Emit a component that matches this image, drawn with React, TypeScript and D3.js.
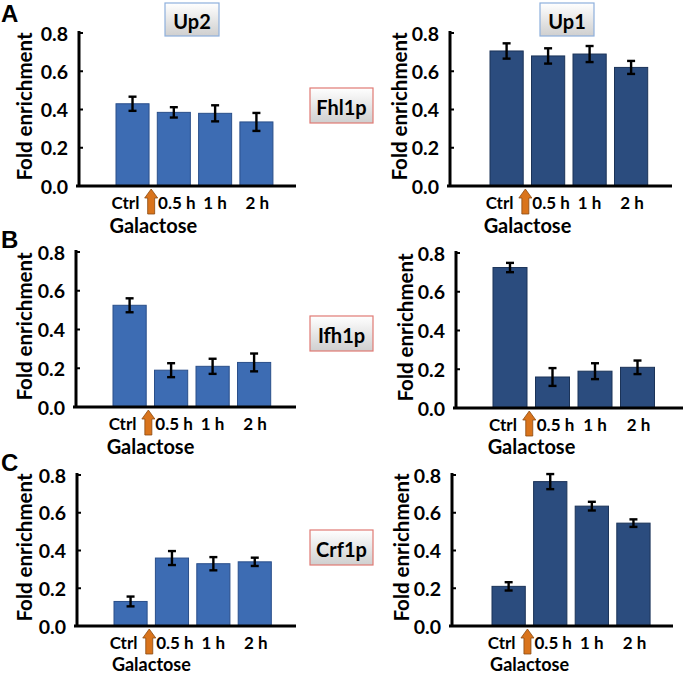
import React from 'react';
import * as d3 from 'd3';

const categories = ['Ctrl', '0.5 h', '1 h', '2 h'];
const yTicks = [0, 0.2, 0.4, 0.6, 0.8];
const rowLetters = ['A', 'B', 'C'];
const proteins = ['Fhl1p', 'Ifh1p', 'Crf1p'];
const regionTitles = ['Up2', 'Up1'];
const xTitle = 'Galactose';
const yTitle = 'Fold enrichment';

// values (mean) and error (half-length) per panel
const fhl1Up2 = [0.43, 0.385, 0.38, 0.335];
const fhl1Up2Err = [0.037, 0.027, 0.042, 0.047];
const fhl1Up1 = [0.706, 0.68, 0.69, 0.62];
const fhl1Up1Err = [0.04, 0.04, 0.042, 0.034];
const ifh1Up2 = [0.525, 0.19, 0.21, 0.23];
const ifh1Up2Err = [0.036, 0.036, 0.039, 0.046];
const ifh1Up1 = [0.725, 0.16, 0.19, 0.21];
const ifh1Up1Err = [0.024, 0.046, 0.041, 0.035];
const crf1Up2 = [0.13, 0.36, 0.33, 0.34];
const crf1Up2Err = [0.026, 0.037, 0.035, 0.022];
const crf1Up1 = [0.21, 0.765, 0.635, 0.545];
const crf1Up1Err = [0.022, 0.04, 0.023, 0.02];

const panelValues = [
  [fhl1Up2, fhl1Up1],
  [ifh1Up2, ifh1Up1],
  [crf1Up2, crf1Up1],
];
const panelErrors = [
  [fhl1Up2Err, fhl1Up1Err],
  [ifh1Up2Err, ifh1Up1Err],
  [crf1Up2Err, crf1Up1Err],
];

// layout (pixels) per panel
const layouts = [
  [
    { axisX: 79, barStart: 116, axisEnd: 296, y0: 186, yTop: 33, step: 41.3, xtDy: 39, xtFs: 20 },
    { axisX: 450, barStart: 490, axisEnd: 672, y0: 186, yTop: 33, step: 41.5, xtDy: 39, xtFs: 20 },
  ],
  [
    { axisX: 76, barStart: 113, axisEnd: 296, y0: 407, yTop: 252, step: 41.5, xtDy: 39, xtFs: 20 },
    { axisX: 456, barStart: 493, axisEnd: 683, y0: 408, yTop: 253, step: 42.5, xtDy: 38, xtFs: 20 },
  ],
  [
    { axisX: 77, barStart: 114, axisEnd: 296, y0: 626, yTop: 475, step: 41.4, xtDy: 38, xtFs: 18 },
    { axisX: 452, barStart: 492, axisEnd: 673, y0: 626, yTop: 475, step: 41.6, xtDy: 38, xtFs: 18 },
  ],
];
const catLabelDx = [-7, 3, 0, 1];
const barColors = ['#3D6CB3', '#2B4C7E'];
const barStroke = ['#2A4F8A', '#1B3358'];
const FONT = 'Lato, "Open Sans", sans-serif';

function Panel({ row, col }: { row: number; col: number }) {
  const L = layouts[row][col];
  const vals = panelValues[row][col];
  const errs = panelErrors[row][col];
  const y = d3.scaleLinear().domain([0, 0.8]).range([L.y0, L.yTop]);
  const start = L.barStart - 0.1 * L.step;
  const x = d3
    .scaleBand<string>()
    .domain(categories)
    .range([start, start + 4 * L.step])
    .paddingInner(0.2)
    .paddingOuter(0.1);
  const bw = x.bandwidth();
  const gapCenter = ((x('Ctrl') as number) + bw + (x('0.5 h') as number)) / 2;
  const ax = gapCenter - 2;
  const at = L.y0 + 3;
  const arrowPath = `M${ax},${at} L${ax + 6.5},${at + 9} L${ax + 3.5},${at + 9} L${ax + 3.5},${at + 25} L${ax - 3.5},${at + 25} L${ax - 3.5},${at + 9} L${ax - 6.5},${at + 9} Z`;
  const labelCy = (L.y0 + L.yTop) / 2 - 3;
  const titleX = col === 0 ? 24 : L.axisX - 51;
  return (
    <g>
      <text
        transform={`translate(${titleX},${labelCy}) rotate(-90)`}
        textAnchor="middle"
        dominantBaseline="central"
        fontFamily={FONT}
        fontWeight={700}
        fontSize={20.5}
        fill="#000"
      >
        {yTitle}
      </text>
      {yTicks.map((t) => (
        <g key={t}>
          <text
            x={L.axisX - 11}
            y={y(t)}
            textAnchor="end"
            dominantBaseline="central"
            fontFamily={FONT}
            fontWeight={700}
            fontSize={19.5}
          >
            {d3.format('.1f')(t)}
          </text>
          <line x1={L.axisX} x2={L.axisX + 4} y1={y(t)} y2={y(t)} stroke="#000" strokeWidth={2} />
        </g>
      ))}
      {categories.map((c, i) => (
        <rect
          key={c}
          x={x(c)}
          y={y(vals[i])}
          width={bw}
          height={L.y0 - y(vals[i])}
          fill={barColors[col]}
          stroke={barStroke[col]}
          strokeWidth={1}
        />
      ))}
      {categories.map((c, i) => {
        const cx = (x(c) as number) + bw / 2;
        const yt = y(vals[i] + errs[i]);
        const yb = y(vals[i] - errs[i]);
        return (
          <g key={c} stroke="#000" strokeWidth={2.4}>
            <line x1={cx} x2={cx} y1={yt} y2={yb} />
            <line x1={cx - 4} x2={cx + 4} y1={yt} y2={yt} />
            <line x1={cx - 4} x2={cx + 4} y1={yb} y2={yb} />
          </g>
        );
      })}
      <line x1={L.axisX} x2={L.axisX} y1={L.yTop - 2} y2={L.y0} stroke="#000" strokeWidth={3} />
      <line x1={L.axisX - 3} x2={L.axisEnd} y1={L.y0} y2={L.y0} stroke="#000" strokeWidth={3} />
      {categories.map((c, i) => (
        <text
          key={c}
          x={(x(c) as number) + bw / 2 + catLabelDx[i]}
          y={L.y0 + 16}
          textAnchor="middle"
          dominantBaseline="central"
          fontFamily={FONT}
          fontWeight={700}
          fontSize={17}
        >
          {c}
        </text>
      ))}
      <path d={arrowPath} fill="#D9741C" stroke="#8A4A12" strokeWidth={0.8} />
      <text
        x={(x('0.5 h') as number) - 4}
        y={L.y0 + L.xtDy}
        textAnchor="middle"
        dominantBaseline="central"
        fontFamily={FONT}
        fontWeight={700}
        fontSize={L.xtFs}
      >
        {xTitle}
      </text>
    </g>
  );
}

function LabelBox({ x, y, w, h, text, stroke }: any) {
  return (
    <g>
      <rect x={x} y={y} width={w} height={h} fill="url(#boxGrad)" stroke={stroke} strokeWidth={1.2} />
      <text
        x={x + w / 2}
        y={y + h / 2 + 1}
        textAnchor="middle"
        dominantBaseline="central"
        fontFamily={FONT}
        fontWeight={700}
        fontSize={20}
      >
        {text}
      </text>
    </g>
  );
}

const letterY = [22, 248, 471];
const proteinBoxY = [88, 316, 530];
const titleBoxX = [165, 540];

export default function App() {
  return (
    <svg
      width={684}
      height={675}
      style={{ position: 'absolute', left: 0, top: 0, background: '#fff' }}
    >
      <defs>
        <linearGradient id="boxGrad" x1="0" y1="0" x2="0" y2="1">
          <stop offset="0" stopColor="#ffffff" />
          <stop offset="1" stopColor="#cfcfcf" />
        </linearGradient>
      </defs>
      <rect width={684} height={675} fill="#fff" />
      {rowLetters.map((l, r) => (
        <text
          key={l}
          x={1}
          y={letterY[r]}
          fontFamily='"Liberation Sans", Arial, sans-serif'
          fontWeight={700}
          fontSize={24}
        >
          {l}
        </text>
      ))}
      {regionTitles.map((t, i) => (
        <LabelBox key={t} x={titleBoxX[i]} y={3} w={54} h={33} text={t} stroke="#8EB0DC" />
      ))}
      {proteins.map((p, r) => (
        <LabelBox key={p} x={310} y={proteinBoxY[r]} w={63} h={35} text={p} stroke="#E07A74" />
      ))}
      {[0, 1, 2].map((r) => (
        <g key={r}>
          <Panel row={r} col={0} />
          <Panel row={r} col={1} />
        </g>
      ))}
    </svg>
  );
}
